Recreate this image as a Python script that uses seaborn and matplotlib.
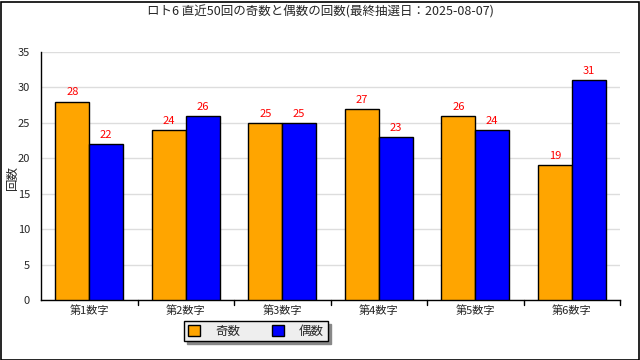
import matplotlib
matplotlib.use("Agg")
import matplotlib.pyplot as plt
import seaborn as sns
import pandas as pd
from matplotlib.patches import Rectangle, Patch

categories = ["第1数字", "第2数字", "第3数字", "第4数字", "第5数字", "第6数字"]
odd = [28, 24, 25, 27, 26, 19]
even = [22, 26, 25, 23, 24, 31]
series = ["奇数", "偶数"]
title = "ロト6 直近50回の奇数と偶数の回数(最終抽選日：2025-08-07)"

sns.set_theme(style="white")
plt.rcParams['font.family'] = ['Noto Sans CJK JP', 'DejaVu Sans']

df = pd.DataFrame({
    "cat": categories * 2,
    "kind": [series[0]] * len(categories) + [series[1]] * len(categories),
    "val": odd + even,
})

fig = plt.figure(figsize=(6.4, 3.6), dpi=100)
ax = fig.add_axes([41/640, 60/360, 579/640, 248/360])

sns.barplot(data=df, x="cat", y="val", hue="kind", palette=["#FFA500", "#0000FF"],
            width=0.70, edgecolor="black", linewidth=1, saturation=1, ax=ax, legend=False, zorder=3)

for c in ax.containers:
    ax.bar_label(c, color="red", fontsize=8, padding=3)

ax.set_ylim(0, 35)
ax.set_xlim(-0.5, 5.5)
ax.set_yticks(range(0, 36, 5))
ax.yaxis.grid(True, color="#DDDDDD", linewidth=1, zorder=0)
ax.set_axisbelow(True)
ax.set_xlabel("")
ax.set_ylabel("")
ax.tick_params(axis="y", labelsize=8, direction="in", length=4, width=1, color="black", pad=8)
ax.tick_params(axis="x", labelsize=8, length=0, pad=4)
for x in [0.5, 1.5, 2.5, 3.5, 4.5, 5.5]:
    ax.plot([x, x], [0, -0.02], transform=ax.get_xaxis_transform(), color="black", lw=1, clip_on=False)
for s in ["top", "right"]:
    ax.spines[s].set_visible(False)
for s in ["left", "bottom"]:
    ax.spines[s].set_color("black")
    ax.spines[s].set_linewidth(1)

fig.text(0.5, 1 - 12/360, title, ha="center", va="center", fontsize=9)
fig.text(12/640, 1 - 178/360, "回数", ha="center", va="center", rotation=90, fontsize=9)

handles = [Patch(facecolor="#FFA500", edgecolor="black"), Patch(facecolor="#0000FF", edgecolor="black")]
leg = fig.legend(handles, series, loc="center", bbox_to_anchor=(256/640, 1 - 331/360), ncol=2,
                 fontsize=9, frameon=True, fancybox=False, shadow={"ox": 2, "oy": -2, "color": "#888888", "alpha": 1},
                 handlelength=1.0, handleheight=1.0,
                 columnspacing=2.5, handletextpad=1.2, borderpad=0.3)
leg.get_frame().set_facecolor("#EEEEEE")
leg.get_frame().set_edgecolor("black")
leg.get_frame().set_alpha(1)

fig.patches.append(Rectangle((0.5/640, 0.5/360), 638/640, 358/360, transform=fig.transFigure,
                             fill=False, edgecolor="black", linewidth=1.2))
fig.savefig("out.png", dpi=100)
